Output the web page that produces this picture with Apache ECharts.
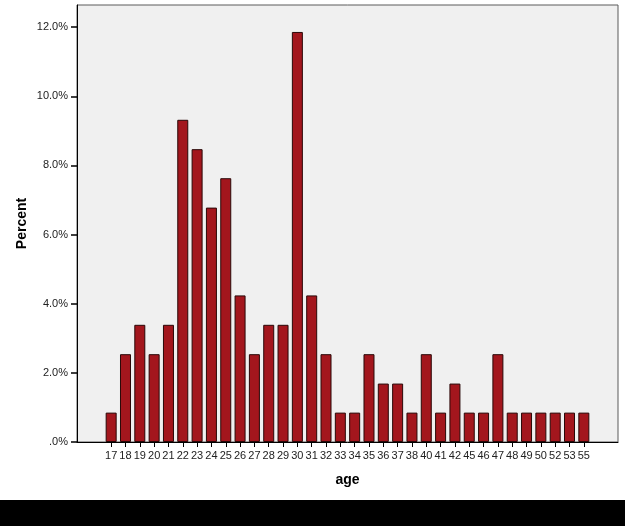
<!DOCTYPE html>
<html>
<head>
<meta charset="utf-8">
<script src="https://cdn.jsdelivr.net/npm/echarts@6/dist/echarts.min.js"></script>
<style>html,body{margin:0;padding:0;background:#fff;}#c{width:625px;height:526px;}</style>
</head>
<body>
<div id="c"></div>
<script>
var ages = ['17','18','19','20','21','22','23','24','25','26','27','28','29','30','31','32','33','34','35','36','37','38','40','41','42','45','46','47','48','49','50','52','53','55'];
var percent = [0.85,2.54,3.39,2.54,3.39,9.32,8.47,6.78,7.63,4.24,2.54,3.39,3.39,11.86,4.24,2.54,0.85,0.85,2.54,1.69,1.69,0.85,2.54,0.85,1.69,0.85,0.85,2.54,0.85,0.85,0.85,0.85,0.85,0.85];
var yTicks = [0,2,4,6,8,10,12];

var chart = echarts.init(document.getElementById('c'), null, {renderer:'canvas'});
var fontFam = '"Liberation Sans", Arial, sans-serif';
var yMax = 12.64;
chart.setOption({
  animation:false,
  backgroundColor:'#ffffff',
  graphic:[{type:'rect', left:0, top:500, shape:{width:625, height:26}, style:{fill:'#000000'}, z:100}],
  grid:[
    {left:77, right:7, top:5, bottom:84, show:true, backgroundColor:'#f0f0f0', borderColor:'#5a5a5a', borderWidth:1},
    {left:104, right:34, top:5, bottom:84, show:false}
  ],
  xAxis:[
    {gridIndex:0, type:'value', min:0, max:1, axisLine:{show:true, lineStyle:{color:'#000', width:1}}, axisTick:{show:false}, axisLabel:{show:false}, splitLine:{show:false},
     name:'age', nameLocation:'middle', nameGap:31, nameTextStyle:{fontFamily:fontFam, fontSize:14, fontWeight:'bold', color:'#000'}},
    {gridIndex:1, type:'category', data:ages, boundaryGap:true, axisLine:{show:false},
     axisTick:{show:true, alignWithLabel:true, inside:false, length:5, lineStyle:{color:'#000', width:1}},
     axisLabel:{interval:0, margin:8, fontFamily:fontFam, fontSize:11, color:'#222'}}
  ],
  yAxis:[
    {gridIndex:0, type:'value', min:0, max:yMax, interval:2,
     axisLine:{show:true, lineStyle:{color:'#000', width:1}},
     axisTick:{show:true, inside:false, length:6, lineStyle:{color:'#000', width:1.5}},
     axisLabel:{showMaxLabel:false, margin:9, fontFamily:fontFam, fontSize:11, color:'#222',
       formatter:function(v){ if(yTicks.indexOf(v)<0) return ''; return v===0 ? '.0%' : v.toFixed(1)+'%'; }},
     splitLine:{show:false},
     name:'Percent', nameLocation:'middle', nameGap:48, nameRotate:90, nameMoveOverlap:false,
     nameTextStyle:{fontFamily:fontFam, fontSize:14, fontWeight:'bold', color:'#000'}},
    {gridIndex:1, type:'value', min:0, max:yMax, show:false, splitLine:{show:false}}
  ],
  series:[{
    type:'bar', xAxisIndex:1, yAxisIndex:1, data:percent, barWidth:11,
    itemStyle:{color:'#a3161d', borderColor:'#2a0808', borderWidth:1}
  }]
});
</script>
</body>
</html>
